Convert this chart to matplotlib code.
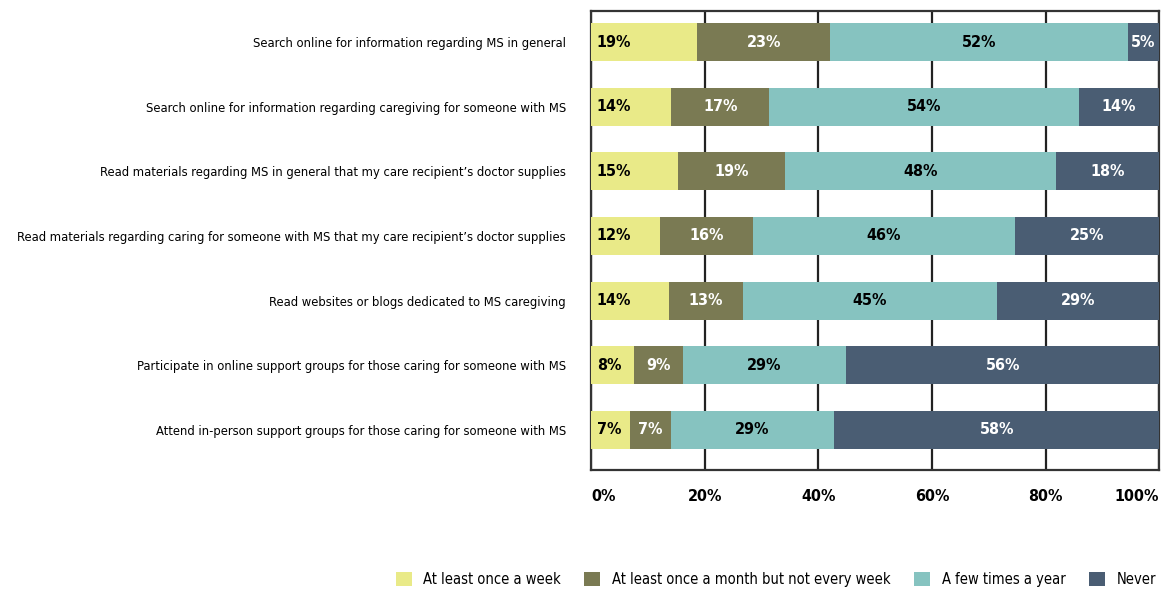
import matplotlib.pyplot as plt

plt.rcParams['font.family'] = ['DejaVu Sans']
plt.rcParams['font.stretch'] = 'condensed'

activities = [
    "Search online for information regarding MS in general",
    "Search online for information regarding caregiving for someone with MS",
    "Read materials regarding MS in general that my care recipient\u2019s doctor supplies",
    "Read materials regarding caring for someone with MS that my care recipient\u2019s doctor supplies",
    "Read websites or blogs dedicated to MS caregiving",
    "Participate in online support groups for those caring for someone with MS",
    "Attend in-person support groups for those caring for someone with MS",
]

series = ["At least once a week", "At least once a month but not every week",
          "A few times a year", "Never"]

weekly = [18.7, 14.1, 15.3, 12.1, 13.7, 7.6, 6.9]
monthly = [23.4, 17.3, 18.8, 16.4, 13.1, 8.6, 7.2]
yearly = [52.4, 54.4, 47.8, 46.1, 44.6, 28.6, 28.6]
never = [5.4, 14.2, 18.1, 25.4, 28.6, 55.5, 57.5]

ticks = [0, 20, 40, 60, 80, 100]

colors = ["#e9ea88", "#7a7a53", "#86c3c0", "#4a5d73"]
text_colors = ["black", "white", "black", "white"]


def main():
    fig = plt.figure(figsize=(11.75, 5.93), dpi=100)
    ax = fig.add_axes([0.503, 0.2074, 0.4836, 0.7741])

    ypos = list(range(len(activities)))
    left = [0.0] * len(activities)
    for k, vals in enumerate([weekly, monthly, yearly, never]):
        ax.barh(ypos, vals, left=left, height=0.59, color=colors[k],
                label=series[k], zorder=3)
        for i, v in enumerate(vals):
            if k == 0:
                x, ha = left[i] + 1.0, "left"
            else:
                x, ha = left[i] + v / 2, "center"
            ax.text(x, i, "%d%%" % round(v), ha=ha, va="center",
                    color=text_colors[k], fontsize=11.5, fontweight="bold",
                    zorder=4)
        left = [a + b for a, b in zip(left, vals)]

    ax.set_xlim(0, 100)
    ax.set_ylim(6.62, -0.48)
    ax.set_yticks(ypos)
    ax.set_yticklabels(activities, fontsize=9.3)
    ax.set_xticks(ticks)
    ax.set_xticklabels(["%d%%" % t for t in ticks],
                       fontsize=11.5, fontweight="bold")
    ticklabels = ax.get_xticklabels()
    ticklabels[0].set_horizontalalignment("left")
    ticklabels[-1].set_horizontalalignment("right")
    ax.tick_params(length=0, pad=18)
    ax.tick_params(axis="x", pad=14)
    ax.xaxis.grid(True, color="#222222", linewidth=1.6, zorder=0)
    for s in ax.spines.values():
        s.set_color("#333333")
        s.set_linewidth(1.6)

    fig.legend(loc="lower right", bbox_to_anchor=(0.995, -0.012), ncol=4,
               frameon=False, fontsize=10.5, handlelength=1.1,
               handleheight=1.1, columnspacing=1.6, handletextpad=0.8)

    fig.savefig("out.png", dpi=100)


if __name__ == "__main__":
    main()
